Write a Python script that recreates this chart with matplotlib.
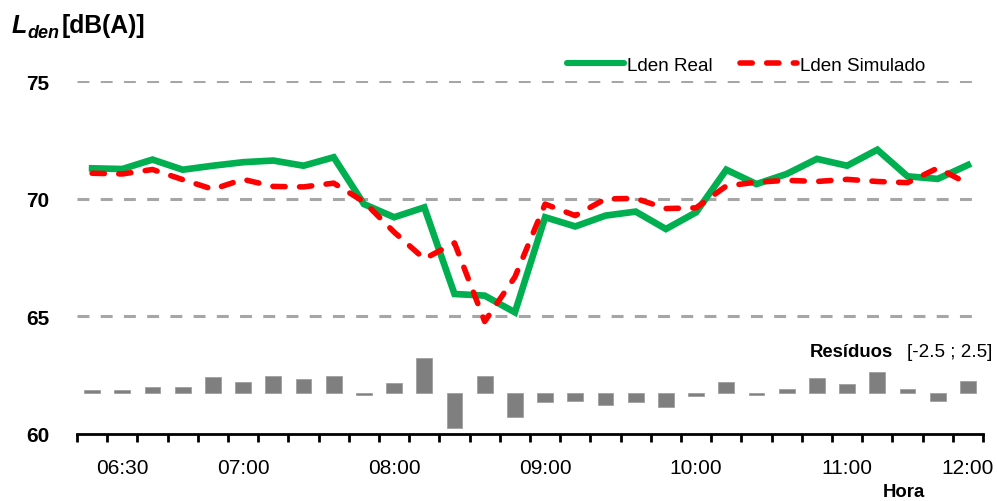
import numpy as np
import matplotlib
matplotlib.use("Agg")
import matplotlib.pyplot as plt
from matplotlib.lines import Line2D

plt.rcParams['font.family'] = ['Liberation Sans', 'DejaVu Sans']

# Time slots along the category axis (only some carry a label)
slot_labels = ['', '06:30', '', '', '', '07:00', '', '', '', '',
               '08:00', '', '', '', '', '09:00', '', '', '', '',
               '10:00', '', '', '', '', '11:00', '', '', '', '12:00']

# Measured and simulated Lden, dB(A)
lden_real = [71.29, 71.26, 71.66, 71.23, 71.40, 71.55, 71.62, 71.40, 71.76, 69.77,
             69.21, 69.63, 65.95, 65.88, 65.17, 69.21, 68.82, 69.28, 69.45, 68.71,
             69.42, 71.23, 70.62, 71.05, 71.69, 71.40, 72.08, 70.95, 70.84, 71.43]
lden_sim = [71.08, 71.05, 71.24, 70.81, 70.40, 70.82, 70.52, 70.50, 70.66, 69.87,
            68.58, 67.44, 68.12, 64.78, 66.67, 69.77, 69.28, 69.99, 70.01, 69.58,
            69.61, 70.54, 70.70, 70.78, 70.73, 70.82, 70.73, 70.68, 71.30, 70.64]

real = np.array(lden_real)
sim = np.array(lden_sim)
resid = real - sim
x = np.arange(len(slot_labels))

W, H = 997, 502
fig = plt.figure(figsize=(W / 100, H / 100), dpi=100)
ax = fig.add_axes([77 / W, 1 - 435 / H, (983 - 77) / W, (435 - 82) / H])

green = '#00B050'
red = '#FF0000'
grid_c = '#A6A6A6'

# Residual bars on their own scale
ax2 = ax.twinx()
ax2.bar(x, resid, width=0.52, color='#7F7F7F', edgecolor='#A0A0A0', linewidth=0.6, zorder=2)
ax2.set_ylim(-2.54, 19.52)
ax2.set_yticks([])
for s in ax2.spines.values():
    s.set_visible(False)

# Horizontal dashed grid
for v in (65, 70, 75):
    ax.axhline(v, color=grid_c, lw=2.2, dashes=(3.9, 3.7), dash_capstyle='butt', zorder=1)

ax.plot(x, real, color=green, lw=4.8, solid_joinstyle='miter', zorder=3)
ax.plot(x, sim, color=red, lw=4.0, dashes=(2.2, 2.6), dash_capstyle='round', zorder=4)

ax.set_xlim(-0.5, len(x) - 0.5)
ax.set_ylim(60, 75)
ax.set_zorder(ax2.get_zorder() + 1)
ax.patch.set_visible(False)

ax.set_yticks([60, 65, 70, 75])
ax.set_yticklabels(['60', '65', '70', '75'], fontsize=15, fontweight='bold')
ax.tick_params(axis='y', length=0, pad=20)

ax.set_xticks(x)
ax.set_xticklabels(slot_labels, fontsize=15)
ax.tick_params(axis='x', which='major', length=0, pad=17)
ax.set_xticks(np.arange(-0.5, len(x), 1.0), minor=True)
ax.tick_params(axis='x', which='minor', length=6, width=2, direction='out', color='black')

for k in ('left', 'right', 'top'):
    ax.spines[k].set_visible(False)
ax.spines['bottom'].set_linewidth(2)
ax.spines['bottom'].set_color('black')

# Legend
handles = [Line2D([], [], color=green, lw=4.4, solid_capstyle='round'),
           Line2D([], [], color=red, lw=4.0, dashes=(2.2, 2.6), dash_capstyle='round')]
fig.legend(handles, ['Lden Real', 'Lden Simulado'], loc='center left',
           bbox_to_anchor=(567 / W, 1 - 66 / H), ncol=2, frameon=False,
           fontsize=13.6, handlelength=3.0, handletextpad=0.15, columnspacing=1.5,
           borderpad=0, borderaxespad=0)

# Axis title
fig.text(12 / W, 1 - 33 / H, 'L', fontsize=18, fontweight='bold', style='italic', va='baseline')
fig.text(27 / W, 1 - 38 / H, 'den', fontsize=13, fontweight='bold', style='italic', va='baseline')
fig.text(62 / W, 1 - 33 / H, '[dB(A)]', fontsize=17.8, fontweight='bold', va='baseline')

fig.text(810 / W, 1 - 357 / H, 'Resíduos', fontsize=13.3, fontweight='bold', va='baseline')
fig.text(907 / W, 1 - 357 / H, '[-2.5 ; 2.5]', fontsize=13.6, va='baseline')
fig.text(904 / W, 1 - 497 / H, 'Hora', fontsize=13.3, fontweight='bold', va='baseline', ha='center')

fig.savefig('out.png', dpi=100)
